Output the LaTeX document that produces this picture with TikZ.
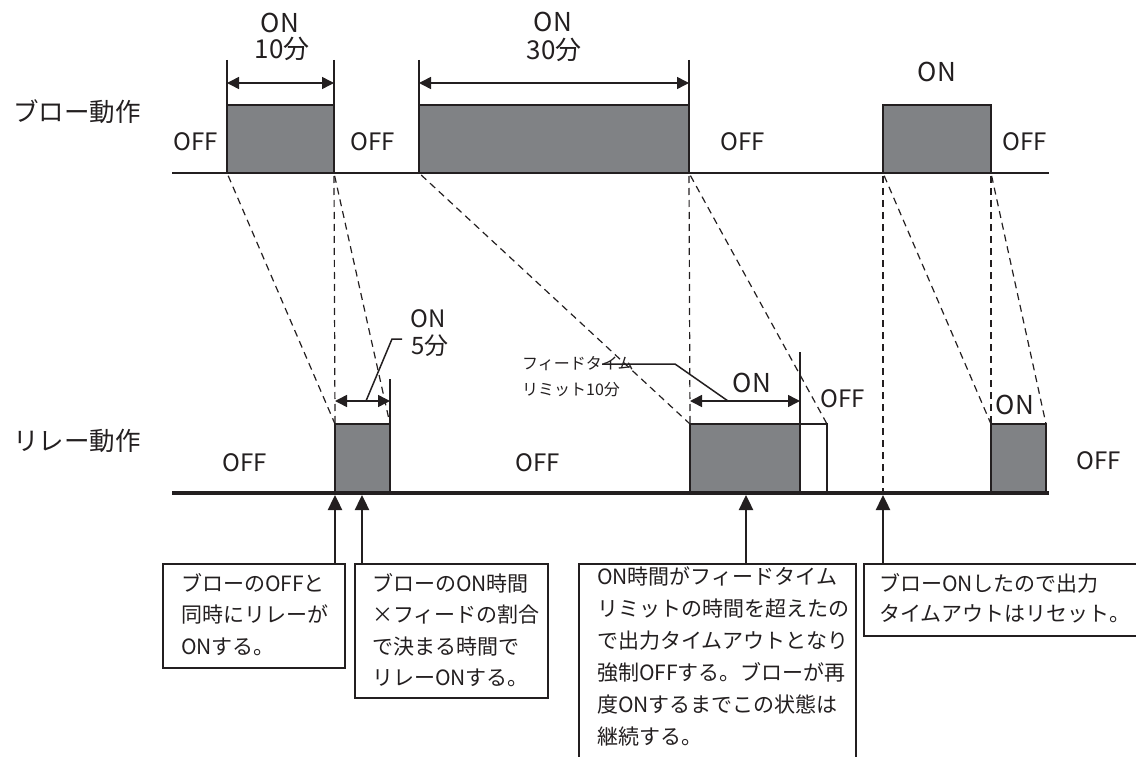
\documentclass[tikz,border=0pt]{standalone}
\usepackage{fontspec}
\setmainfont{Noto Sans CJK JP}
\usetikzlibrary{arrows.meta}
\definecolor{ink}{RGB}{35,31,32}
\definecolor{pulsegray}{RGB}{128,130,133}
\begin{document}
\begin{tikzpicture}[x=1pt,y=-1pt,
  pulse/.style={draw=ink,line width=2.2pt,fill=pulsegray},
  offbox/.style={draw=ink,line width=2pt,fill=white},
  base/.style={draw=ink,line width=2.6pt},
  relaybase/.style={draw=ink,line width=3.6pt},
  guide/.style={draw=ink,line width=1.2pt,dash pattern=on 7pt off 5pt,shorten <=3pt},
  ext/.style={draw=ink,line width=2pt},
  dim/.style={draw=ink,line width=1.5pt,{Triangle[length=12pt,width=12pt]}-{Triangle[length=12pt,width=12pt]}},
  leader/.style={draw=ink,line width=1.5pt},
  up/.style={draw=ink,line width=2.4pt,-{Triangle[length=15pt,width=14pt]}},
  lbl/.style={text=ink,inner sep=0pt,font=\fontsize{24}{26}\selectfont},
  big/.style={text=ink,inner sep=0pt,font=\fontsize{26}{28}\selectfont},
  side/.style={text=ink,inner sep=0pt,font=\fontsize{25.5}{28}\selectfont},
  small/.style={text=ink,inner sep=0pt,font=\fontsize{16}{26}\selectfont,anchor=west},
  notebox/.style={draw=ink,line width=1.5pt,fill=white,inner sep=0pt,anchor=north west},
  notetext/.style={text=ink,inner sep=0pt,anchor=north west,align=left,font=\fontsize{21}{31.5}\selectfont},
]
\useasboundingbox (0,0) rectangle (1136,757);

% ---------- blow (top) timeline ----------
\coordinate (tl) at (172,173);
\coordinate (tr) at (1049,173);
\coordinate (bA) at (227,173);
\coordinate (bB) at (334,173);
\coordinate (bC) at (419,173);
\coordinate (bD) at (689,173);
\coordinate (bE) at (883,173);
\coordinate (bF) at (991,173);

\draw[pulse] (bA) rectangle (334,105);
\draw[pulse] (bC) rectangle (689,105);
\draw[pulse] (bE) rectangle (991,105);
\draw[base] (tl) -- (tr);

% dimension marks (top)
\coordinate (eA) at (227,60);
\coordinate (eB) at (334,60);
\coordinate (eC) at (419,60);
\coordinate (eD) at (689,60);
\draw[ext] (eA) -- (227,105);
\draw[ext] (eB) -- (334,105);
\draw[ext] (eC) -- (419,105);
\draw[ext] (eD) -- (689,105);
\coordinate (dA) at (227,83);
\coordinate (dB) at (334,83);
\coordinate (dC) at (419,83);
\coordinate (dD) at (689,83);
\draw[dim] (dA) -- (dB);
\draw[dim] (dC) -- (dD);

\node[big] (on1) at (280,23) {ON};
\node[big] (m1) at (282,49) {10分};
\node[big] (on2) at (553,22) {ON};
\node[big] (m2) at (554,50) {30分};
\node[big] (on3) at (937,72) {ON};
\node[lbl] (off1) at (196,142) {OFF};
\node[lbl] (off2) at (373,142) {OFF};
\node[lbl] (off3) at (743,142) {OFF};
\node[lbl] (off4) at (1025,142) {OFF};

\node[side] (sl1) at (77,112) {ブロー動作};
\node[side] (sl2) at (77,441) {リレー動作};

% ---------- relay (bottom) timeline ----------
\coordinate (rl) at (172,493);
\coordinate (rr) at (1049,493);
\coordinate (rA) at (335,424);
\coordinate (rB) at (390,424);
\coordinate (rC) at (690,424);
\coordinate (rD) at (800,424);
\coordinate (rE) at (827,424);
\coordinate (rF) at (991,424);
\coordinate (rG) at (1046,424);
\coordinate (rX) at (883,491);

\draw[pulse] (335,493) rectangle (rB);
\draw[pulse] (690,493) rectangle (rD);
\draw[offbox] (800,493) rectangle (rE);
\draw[pulse] (991,493) rectangle (rG);
\draw[relaybase] (rl) -- (rr);

% dashed guides
\draw[guide] (bA) -- (rA);
\draw[guide] (bB) -- (rA);
\draw[guide] (bB) -- (rB);
\draw[guide] (bC) -- (rC);
\draw[guide] (bD) -- (rC);
\draw[guide] (bD) -- (rE);
\draw[guide] (bE) -- (rF);
\draw[guide] (bE) -- (rX);
\draw[guide] (bF) -- (rF);
\draw[guide] (bF) -- (rG);

% relay dimensions
\coordinate (xB) at (390,379);
\coordinate (xD) at (800,352);
\draw[ext] (xB) -- (rB);
\draw[ext] (xD) -- (rD);
\coordinate (qA) at (335,401);
\coordinate (qB) at (390,401);
\coordinate (qC) at (690,401);
\coordinate (qD) at (800,401);
\draw[dim] (qA) -- (qB);
\draw[dim] (qC) -- (qD);

% leaders
\coordinate (l1a) at (366,401);
\coordinate (l1b) at (392,339);
\coordinate (l1c) at (402,339);
\draw[leader] (l1a) -- (l1b) -- (l1c);
\coordinate (l2a) at (728,401);
\coordinate (l2b) at (675,364);
\coordinate (l2c) at (602,364);
\draw[leader] (l2a) -- (l2b) -- (l2c);

\node[lbl] (on4) at (428,319) {ON};
\node[lbl] (m4) at (430,346) {5分};
\node[small] (fl1) at (522,364) {フィードタイム};
\node[small] (fl2) at (522,390) {リミット10分};
\node[big] (on5) at (752,383) {ON};
\node[lbl] (off5) at (843,399) {OFF};
\node[big] (on6) at (1015,405) {ON};
\node[lbl] (roff1) at (245,463) {OFF};
\node[lbl] (roff2) at (538,463) {OFF};
\node[lbl] (roff3) at (1099,461) {OFF};

% ---------- notes ----------
\node[notebox,minimum width=182pt,minimum height=104pt] (n1) at (162,563) {};
\node[notebox,minimum width=193pt,minimum height=134pt] (n2) at (354,563) {};
\node[notebox,minimum width=277pt,minimum height=210pt] (n3) at (578,563) {};
\node[notebox,minimum width=300pt,minimum height=72pt] (n4) at (863,563) {};

\node[notetext] (t1) at (181,573) {ブローのOFFと\\同時にリレーが\\ONする。};
\node[notetext] (t2) at (372,573) {ブローのON時間\\×フィードの割合\\で決まる時間で\\リレーONする。};
\node[notetext,font=\fontsize{21}{32}\selectfont] (t3) at (597,567) {ON時間がフィードタイム\\リミットの時間を超えたの\\で出力タイムアウトとなり\\強制OFFする。ブローが再\\度ONするまでこの状態は\\継続する。};
\node[notetext,font=\fontsize{21}{30}\selectfont] (t4) at (879,573) {ブローONしたので出力\\タイムアウトはリセット。};

% up arrows
\coordinate (a1) at (335,495);
\coordinate (a2) at (362,495);
\coordinate (a3) at (746,495);
\coordinate (a4) at (883,495);
\draw[up] (a1 |- n1.north) -- (a1);
\draw[up] (a2 |- n2.north) -- (a2);
\draw[up] (a3 |- n3.north) -- (a3);
\draw[up] (a4 |- n4.north) -- (a4);
\end{tikzpicture}
\end{document}
